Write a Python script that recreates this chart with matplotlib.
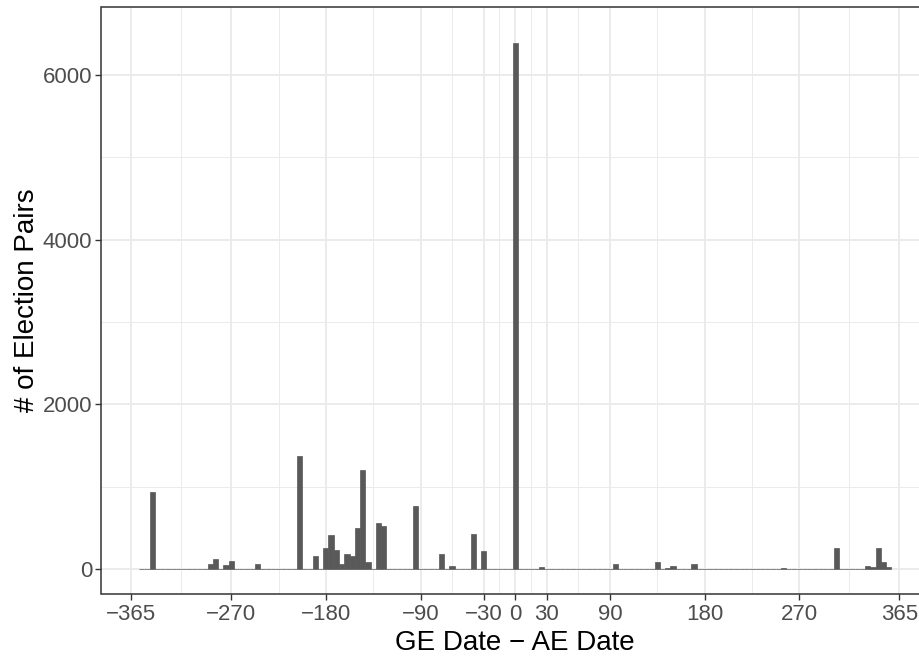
import numpy as np
import matplotlib
matplotlib.use("Agg")
import matplotlib.pyplot as plt
from matplotlib.ticker import FixedLocator

plt.rcParams["font.family"] = ["Liberation Sans", "DejaVu Sans"]

# ── Data: histogram with 5-day bins (centres), only non-empty bins listed ──────
bin_width = 5
bin_centers = np.arange(-355, 360, bin_width)
nonzero_days = [-345, -290, -285, -275, -270, -245, -205, -190, -180, -175,
                -170, -165, -160, -155, -150, -145, -140, -130, -125, -95,
                -70, -60, -40, -30, 0, 25, 95, 135, 145, 150, 170, 255,
                305, 335, 340, 345, 350, 355]
nonzero_counts = [935, 60, 120, 45, 95, 60, 1367, 152, 249, 407,
                  225, 55, 176, 152, 492, 1197, 79, 553, 516, 759,
                  176, 30, 419, 213, 6392, 28, 55, 80, 15, 40, 55, 15,
                  249, 40, 25, 249, 90, 25]

counts = np.zeros(len(bin_centers))
for d, c in zip(nonzero_days, nonzero_counts):
    counts[np.searchsorted(bin_centers, d)] = c

x_breaks = [-365, -270, -180, -90, -30, 0, 30, 90, 180, 270, 365]
x_labels = ["\u2212365", "\u2212270", "\u2212180", "\u221290", "\u221230",
            "0", "30", "90", "180", "270", "365"]
y_breaks = [0, 2000, 4000, 6000]

# ── Figure ─────────────────────────────────────────────────────────────────────
W, H = 920, 658
fig = plt.figure(figsize=(W / 100, H / 100), dpi=100)
left, right, top, bottom = 101.5, 929.0, 6.7, 594.0
ax = fig.add_axes([left / W, (H - bottom) / H, (right - left) / W, (bottom - top) / H])

ax.bar(bin_centers, counts, width=bin_width, color="#595959",
       edgecolor="#595959", linewidth=0.5, zorder=3)

lo, hi = bin_centers[0] - bin_width / 2, bin_centers[-1] + bin_width / 2
pad = 0.05 * (hi - lo)
ax.set_xlim(lo - pad, hi + pad)
ax.set_ylim(-304, 6829)

# gridlines (theme_bw)
minor_x = [(a + b) / 2 for a, b in zip(x_breaks[:-1], x_breaks[1:])]
minor_y = [1000, 3000, 5000]
for v in minor_x:
    ax.axvline(v, color="#EBEBEB", lw=0.7, zorder=1)
for v in minor_y:
    ax.axhline(v, color="#EBEBEB", lw=0.7, zorder=1)
for v in x_breaks:
    ax.axvline(v, color="#EBEBEB", lw=1.4, zorder=1)
for v in y_breaks:
    ax.axhline(v, color="#EBEBEB", lw=1.4, zorder=1)

ax.xaxis.set_major_locator(FixedLocator(x_breaks))
ax.set_xticklabels(x_labels)
ax.yaxis.set_major_locator(FixedLocator(y_breaks))
ax.set_yticklabels([str(v) for v in y_breaks])

ax.tick_params(axis="both", length=4, width=1.0, color="#333333",
               labelcolor="#4D4D4D", labelsize=16, pad=2.5)
ax.tick_params(axis="x", pad=3.5)
for s in ax.spines.values():
    s.set_color("#333333")
    s.set_linewidth(1.1)

ax.set_xlabel("GE Date \u2212 AE Date", fontsize=20, color="black", labelpad=3)
ax.set_ylabel("# of Election Pairs", fontsize=20, color="black", labelpad=2)

fig.savefig("out.png", dpi=100)
